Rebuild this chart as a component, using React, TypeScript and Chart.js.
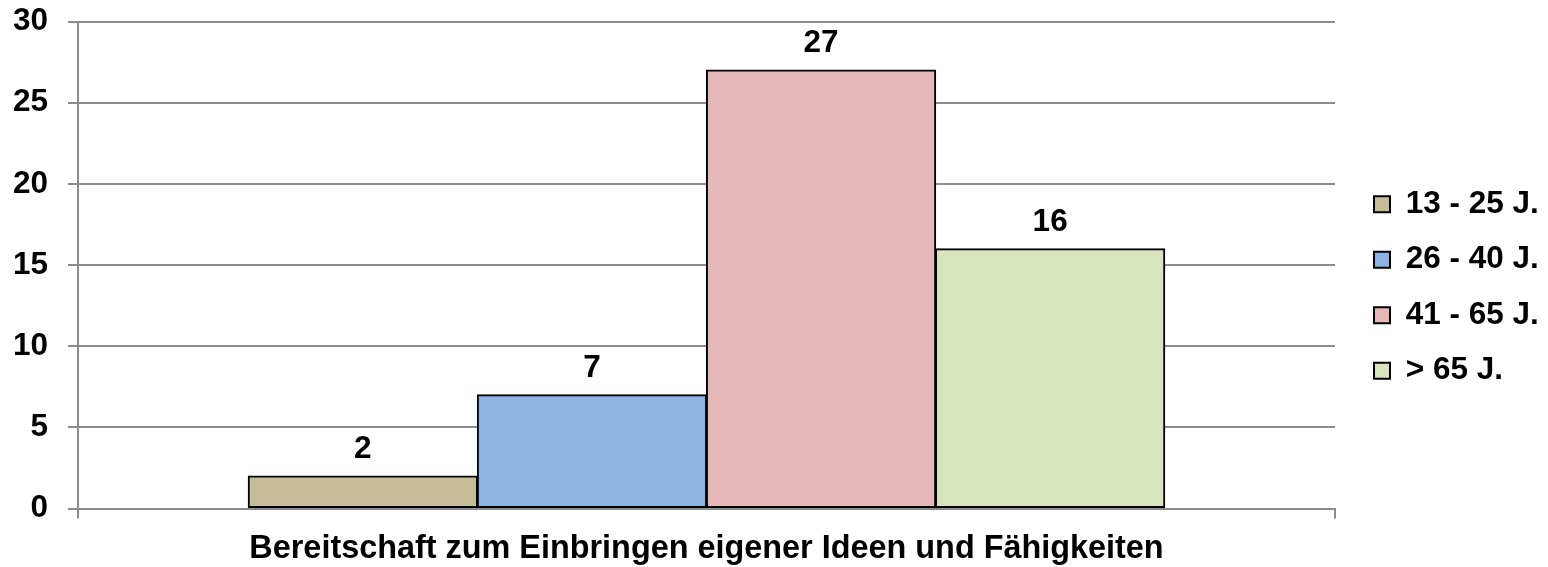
import React, { useEffect, useRef } from "react";
import { Chart, registerables } from "chart.js";

Chart.register(...registerables);

const categories = ["Bereitschaft zum Einbringen eigener Ideen und Fähigkeiten"];
const seriesLabels = ["13 - 25 J.", "26 - 40 J.", "41 - 65 J.", "> 65 J."];
const values13to25 = [2];
const values26to40 = [7];
const values41to65 = [27];
const valuesOver65 = [16];
const seriesColors = ["#C4BD97", "#8DB3E2", "#E6B9B8", "#D7E4BD"];
const yMin = 0;
const yMax = 30;
const yStep = 5;

const FONT = '"Liberation Sans", Arial, Helvetica, sans-serif';
const GRID = "#8c8c8c";
const FS = 31.5;

const valueLabelPlugin = {
  id: "valueLabels",
  afterDatasetsDraw(chart: any) {
    const ctx = chart.ctx;
    ctx.save();
    ctx.font = `bold ${FS}px ${FONT}`;
    ctx.fillStyle = "#000";
    ctx.textAlign = "center";
    ctx.textBaseline = "alphabetic";
    chart.data.datasets.forEach((ds: any, i: number) => {
      const meta = chart.getDatasetMeta(i);
      meta.data.forEach((el: any, j: number) => {
        ctx.fillText(String(ds.data[j]), el.x, el.y - 18);
      });
    });
    ctx.restore();
  },
};

export default function App() {
  const ref = useRef<HTMLCanvasElement | null>(null);
  useEffect(() => {
    document.documentElement.style.overflow = "hidden";
    if (!ref.current) return;
    const seriesValues = [values13to25, values26to40, values41to65, valuesOver65];
    const chart = new Chart(ref.current, {
      type: "bar",
      data: {
        labels: categories,
        datasets: seriesLabels.map((label, i) => ({
          label,
          data: seriesValues[i],
          backgroundColor: seriesColors[i],
          borderColor: "#000",
          borderWidth: 2,
          borderSkipped: false,
          inflateAmount: 0.6,
          categoryPercentage: 0.729,
          barPercentage: 1,
        })),
      },
      options: {
        animation: false,
        responsive: true,
        maintainAspectRatio: false,
        layout: { padding: 0 },
        plugins: {
          tooltip: { enabled: false },
          legend: {
            position: "right",
            align: "center",
            maxWidth: 190,
            labels: {
              color: "#000",
              font: { family: FONT, size: FS, weight: "bold" },
              boxWidth: 16,
              boxHeight: 16,
              padding: 24,
            },
          },
        },
        scales: {
          x: {
            offset: true,
            grid: {
              offset: true,
              drawOnChartArea: false,
              drawTicks: true,
              tickLength: 10,
              color: GRID,
              lineWidth: 2,
            },
            border: { display: true, color: GRID, width: 2 },
            ticks: {
              color: "#000",
              padding: 14.5,
              font: { family: FONT, size: 32.4, weight: "bold", lineHeight: 1 },
              maxRotation: 0,
            },
            afterFit: (s: any) => {
              s.height = 58.5;
              s.paddingLeft = 0;
              s.paddingRight = 0;
              s.paddingTop = 0;
              s.paddingBottom = 0;
            },
          },
          y: {
            min: yMin,
            max: yMax,
            grid: {
              color: GRID,
              lineWidth: 2,
              drawTicks: true,
              tickLength: 10,
            },
            border: { display: true, color: GRID, width: 2 },
            ticks: {
              stepSize: yStep,
              color: "#000",
              padding: 20,
              font: { family: FONT, size: FS, weight: "bold", lineHeight: 1 },
            },
            afterFit: (s: any) => {
              s.width = 70;
              s.paddingTop = 13.5;
              s.paddingBottom = 0;
              s.paddingLeft = 0;
              s.paddingRight = 0;
            },
          },
          yGap: {
            position: "right",
            display: true,
            grid: { display: false, drawTicks: false },
            border: { display: false },
            ticks: { display: false },
            afterFit: (s: any) => {
              s.width = 15;
              s.paddingTop = 0;
              s.paddingBottom = 0;
              s.paddingLeft = 0;
              s.paddingRight = 0;
            },
          },
        },
      },
      plugins: [valueLabelPlugin],
    } as any);
    return () => chart.destroy();
  }, []);
  return (
    <div style={{ position: "relative", width: "100%", height: 559 }}>
      <canvas ref={ref} />
    </div>
  );
}
